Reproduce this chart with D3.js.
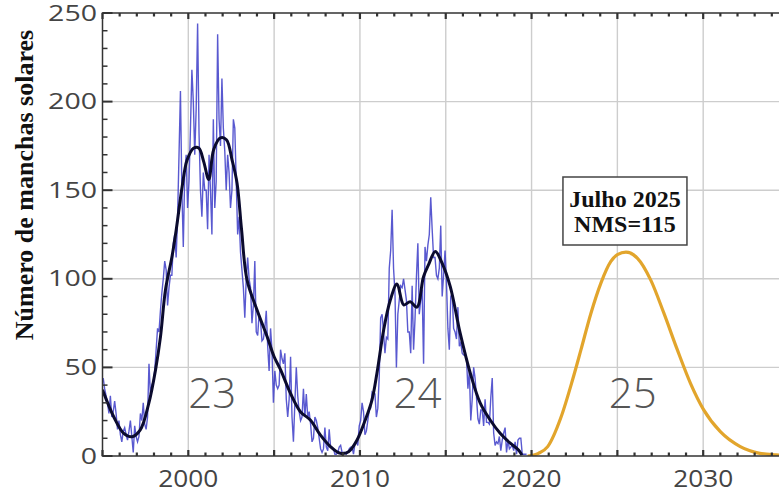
<!DOCTYPE html>
<html>
<head>
<meta charset="utf-8">
<script src="https://cdn.jsdelivr.net/npm/d3@7"></script>
<style>
  html, body { margin: 0; padding: 0; background: #fff; }
  svg { display: block; }
</style>
</head>
<body>
<svg id="chart" width="779" height="495"></svg>
<script>
// Monthly mean sunspot number, January 1995 onwards (one value per month)
const monthlyStart = 1995;
const monthlySpots = [
  44, 38, 34, 30, 24, 34, 22, 25, 31, 24, 15, 20,        // 1995
  12, 8, 14, 16, 12, 9, 14, 20, 11, 2, 17, 11,           // 1996
  8, 11, 24, 20, 30, 18, 15, 22, 52, 35, 40, 42,         // 1997
  48, 60, 72, 70, 82, 92, 100, 110, 105, 85, 95, 102,    // 1998
  102, 120, 125, 112, 135, 170, 206, 150, 118, 160, 170, 140, // 1999
  155, 185, 218, 200, 170, 196, 244, 182, 150, 135, 160, 150, // 2000
  150, 128, 170, 150, 125, 190, 140, 155, 238, 190, 175, 213, // 2001
  185, 172, 150, 170, 160, 140, 150, 190, 185, 155, 125, 135, // 2002
  115, 105, 95, 78, 100, 112, 100, 95, 75, 85, 110, 70,  // 2003
  68, 80, 76, 65, 66, 72, 82, 62, 48, 72, 60, 30,        // 2004
  48, 40, 38, 40, 60, 55, 52, 58, 32, 22, 32, 56,        // 2005
  22, 8, 30, 50, 34, 25, 20, 22, 38, 22, 35, 22,         // 2006
  25, 18, 8, 10, 22, 20, 16, 10, 4, 2, 4, 16,            // 2007
  5, 3, 15, 5, 5, 4, 1, 1, 2, 5, 6, 2,                   // 2008
  2, 2, 1, 2, 4, 5, 5, 1, 7, 8, 6, 17,                   // 2009
  20, 30, 25, 12, 14, 20, 26, 27, 36, 35, 35, 22,        // 2010
  27, 45, 78, 80, 70, 58, 67, 66, 106, 116, 139, 106,    // 2011
  92, 50, 80, 88, 96, 95, 100, 94, 88, 70, 70, 58,       // 2012
  96, 60, 77, 101, 120, 80, 88, 94, 52, 118, 110, 119,   // 2013
  125, 146, 128, 112, 112, 102, 100, 106, 130, 90, 102, 116, // 2014
  98, 72, 60, 90, 92, 72, 70, 66, 84, 62, 64, 58,        // 2015
  57, 57, 55, 38, 48, 20, 32, 50, 44, 33, 21, 18,        // 2016
  26, 26, 17, 32, 19, 19, 18, 33, 44, 13, 6, 8,          // 2017
  7, 11, 3, 9, 13, 16, 2, 9, 4, 5, 6, 3,                 // 2018
  8, 1, 9, 10, 10, 1, 1, 1, 1                            // 2019
];

// 13-month smoothed sunspot number
const smoothYears = [
  1995.0, 1995.66, 1996.24, 1996.73, 1997.2, 1997.7, 1998.09, 1998.38, 1998.67,
  1999.05, 1999.3, 1999.64, 1999.93, 2000.32, 2000.61, 2000.9, 2001.19, 2001.48,
  2001.87, 2002.22, 2002.55, 2002.84, 2003.1, 2003.42, 2004.0, 2004.59, 2005.0,
  2005.36, 2005.95, 2006.53, 2007.11, 2007.69, 2008.28, 2008.86, 2009.34, 2009.83,
  2010.31, 2010.7, 2010.99, 2011.38, 2011.77, 2012.16, 2012.55, 2012.93, 2013.32,
  2013.7, 2014.0, 2014.39, 2014.78, 2015.26, 2015.84, 2016.43, 2017.01, 2017.59,
  2018.17, 2018.76, 2019.24, 2019.44
];
const smoothValues = [
  37.3, 22, 12.8, 10.9, 14.7, 29.8, 48.6, 67.4, 93.8,
  112.6, 128, 152, 167, 173.8, 173.8, 166, 156, 173,
  179.5, 178.5, 167, 154, 128, 99.4, 82.5, 67.4, 56,
  49, 35.4, 25, 20.3, 11.9, 5.3, 1.5, 2.4, 9,
  20.3, 31.6, 46.7, 71, 88, 97, 85.3, 87, 84,
  101, 108, 115.4, 109, 95.7, 69.3, 46.7, 29.8, 20.3,
  12.8, 7.2, 3.4, 0.5
];

// Predicted cycle 25
const predYears = [
  2019.78, 2020.4, 2020.94, 2021.72, 2022.39, 2022.88, 2023.46, 2024.04, 2024.62,
  2025.0, 2025.5, 2026.16, 2026.94, 2027.71, 2028.49, 2029.26, 2030.03, 2031.0,
  2032.16, 2033.3, 2034.25, 2035.0
];
const predValues = [
  0, 1.5, 5.3, 22, 43, 60, 80.6, 97.6, 109.8,
  113.6, 115, 111.7, 99.4, 80.6, 60, 41, 26, 13.7,
  5.3, 1.5, 0.6, 0.2
];

// Cycle labels
const cycleNames = ["23", "24", "25"];
const cycleYears = [2001.4, 2013.35, 2025.9];
const cycleLabelValue = 27;

// Peak annotation
const peakLines = ["Julho 2025", "NMS=115"];

// Axis ticks
const yMajorTicks = [0, 50, 100, 150, 200, 250];
const xLabelTicks = [2000, 2010, 2020, 2030];
const xGridTicks = [2000, 2005, 2010, 2015, 2020, 2025, 2030];
const yTitle = "Número de manchas solares";

const svg = d3.select("#chart");

const x = d3.scaleLinear().domain([1995, 2035]).range([102.5, 789]);
const y = d3.scaleLinear().domain([0, 250]).range([456, 13]);

const plot = svg.append("g");

// clip for the plotted curves
svg.append("clipPath").attr("id", "plotClip")
  .append("rect")
  .attr("x", x(1995)).attr("y", y(250))
  .attr("width", x(2035) - x(1995)).attr("height", y(0) - y(250));

// grid
const grid = plot.append("g").attr("stroke", "#cdcdcd").attr("stroke-width", 1.4);
grid.selectAll("line.v").data(xGridTicks).join("line")
  .attr("x1", d => x(d)).attr("x2", d => x(d))
  .attr("y1", y(250)).attr("y2", y(0));
grid.selectAll("line.h").data([50, 100, 150, 200]).join("line")
  .attr("x1", x(1995)).attr("x2", x(2035))
  .attr("y1", d => y(d)).attr("y2", d => y(d));

// cycle numbers
plot.append("g").selectAll("text").data(cycleNames).join("text")
  .attr("x", (d, i) => x(cycleYears[i]))
  .attr("y", y(cycleLabelValue))
  .attr("text-anchor", "middle")
  .attr("font-family", "'Open Sans', 'DejaVu Sans', sans-serif")
  .attr("font-weight", 300)
  .attr("font-size", 42)
  .attr("fill", "#555")
  .text(d => d);

const curves = plot.append("g").attr("clip-path", "url(#plotClip)");

// monthly values
const monthly = monthlySpots.map((v, i) => [monthlyStart + (i + 0.5) / 12, v]);
curves.append("path")
  .datum(monthly)
  .attr("fill", "none")
  .attr("stroke", "#3c3cc8")
  .attr("stroke-opacity", 0.85)
  .attr("stroke-width", 1.4)
  .attr("d", d3.line().x(d => x(d[0])).y(d => y(d[1])));

// smoothed
const smooth = smoothYears.map((t, i) => [t, smoothValues[i]]);
curves.append("path")
  .datum(smooth)
  .attr("fill", "none")
  .attr("stroke", "#0b0b2e")
  .attr("stroke-width", 3)
  .attr("stroke-linejoin", "round")
  .attr("d", d3.line().curve(d3.curveCatmullRom.alpha(0.5)).x(d => x(d[0])).y(d => y(d[1])));

// prediction
const pred = predYears.map((t, i) => [t, predValues[i]]);
curves.append("path")
  .datum(pred)
  .attr("fill", "none")
  .attr("stroke", "#e2a52c")
  .attr("stroke-width", 3.2)
  .attr("d", d3.line().curve(d3.curveMonotoneX).x(d => x(d[0])).y(d => y(d[1])));

// frame
plot.append("rect")
  .attr("x", x(1995)).attr("y", y(250))
  .attr("width", x(2035) - x(1995)).attr("height", y(0) - y(250))
  .attr("fill", "none").attr("stroke", "#333").attr("stroke-width", 1.5);

// ticks
const tickG = plot.append("g").attr("stroke", "#333");
const yMinor = d3.range(0, 251, 10);
[x(1995), x(2035)].forEach((x0, side) => {
  const dir = side === 0 ? 1 : -1;
  tickG.append("g").selectAll("line").data(yMinor).join("line")
    .attr("x1", x0).attr("x2", d => x0 + dir * (d % 50 === 0 ? 10 : 5))
    .attr("y1", d => y(d)).attr("y2", d => y(d))
    .attr("stroke-width", d => d % 50 === 0 ? 2 : 1.5);
});
const xMinor = d3.range(1995, 2036, 1);
[y(0), y(250)].forEach((y0, side) => {
  const dir = side === 0 ? -1 : 1;
  tickG.append("g").selectAll("line").data(xMinor).join("line")
    .attr("x1", d => x(d)).attr("x2", d => x(d))
    .attr("y1", y0).attr("y2", d => y0 + dir * (d % 5 === 0 ? 6 : 3.5))
    .attr("stroke-width", 2.2);
});

// y tick labels
svg.append("g").selectAll("text").data(yMajorTicks).join("text")
  .attr("x", 97).attr("y", d => y(d))
  .attr("dy", "0.36em")
  .attr("text-anchor", "end")
  .attr("font-family", "'Open Sans', 'DejaVu Sans', sans-serif")
  .attr("font-size", 21)
  .attr("fill", "#444")
  .attr("textLength", d => String(d).length * 16.3)
  .attr("lengthAdjust", "spacingAndGlyphs")
  .text(d => d);

// x tick labels
svg.append("g").selectAll("text").data(xLabelTicks).join("text")
  .attr("x", d => x(d)).attr("y", 487)
  .attr("text-anchor", "middle")
  .attr("font-family", "'Open Sans', 'DejaVu Sans', sans-serif")
  .attr("font-size", 23)
  .attr("fill", "#444")
  .attr("textLength", 60)
  .attr("lengthAdjust", "spacingAndGlyphs")
  .text(d => d);

// y axis title
svg.append("text")
  .attr("transform", "translate(33,185) rotate(-90)")
  .attr("text-anchor", "middle")
  .attr("font-family", "'Liberation Serif', 'Times New Roman', serif")
  .attr("font-weight", "bold")
  .attr("font-size", 26)
  .attr("fill", "#111")
  .text(yTitle);

// peak annotation
const peakIdx = predValues.indexOf(d3.max(predValues));
const boxCx = x(predYears[peakIdx]) - 1;
const ann = svg.append("g");
ann.append("rect")
  .attr("x", boxCx - 62).attr("y", 177)
  .attr("width", 124).attr("height", 68)
  .attr("fill", "#fff").attr("stroke", "#444").attr("stroke-width", 1.5);
ann.selectAll("text").data(peakLines).join("text")
  .attr("x", boxCx).attr("y", (d, i) => 207 + i * 25)
  .attr("text-anchor", "middle")
  .attr("font-family", "'Liberation Serif', 'Times New Roman', serif")
  .attr("font-weight", "bold")
  .attr("font-size", 24)
  .attr("fill", "#111")
  .text(d => d);
</script>
</body>
</html>
